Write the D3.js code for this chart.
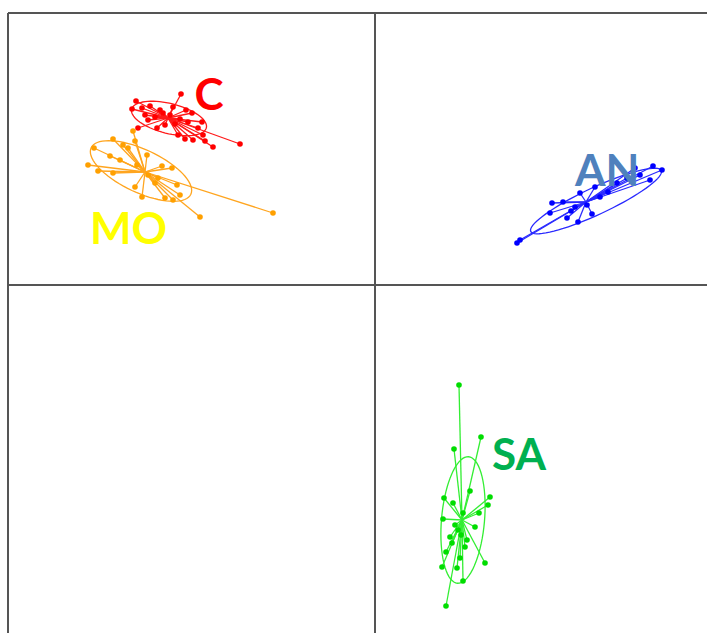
<!DOCTYPE html>
<html>
<head>
<meta charset="utf-8">
<script src="https://cdn.jsdelivr.net/npm/d3@7/dist/d3.min.js"></script>
<style>
  html, body { margin: 0; padding: 0; background: #fff; }
  svg { display: block; }
</style>
</head>
<body>
<svg id="chart" width="707" height="633"></svg>
<script>
// Group scores on the first two axes (Axis 1, Axis 2)
const groupNames = ["C", "MO", "AN", "SA"];

const pointsC = [
  [-1.94, 1.91], [-2.43, 1.76], [-2.39, 1.84], [-2.37, 1.57], [-2.25, 1.79],
  [-2.27, 1.65], [-2.18, 1.57], [-2.15, 1.75], [-2.02, 1.78], [-1.89, 1.75],
  [-1.83, 1.72], [-1.73, 1.63], [-1.77, 1.57], [-1.97, 1.50], [-1.90, 1.46],
  [-1.82, 1.45], [-1.72, 1.50], [-1.70, 1.44], [-1.62, 1.38], [-1.35, 1.41],
  [-2.10, 1.60], [-2.00, 1.61], [-2.30, 1.70], [-1.87, 1.63], [-2.20, 1.68],
  [-2.05, 1.70], [-2.12, 1.72], [-1.95, 1.66], [-2.33, 1.77]
];
const pointsMO = [
  [-2.42, 1.54], [-2.40, 1.44], [-2.81, 1.37], [-2.62, 1.46], [-2.52, 1.40],
  [-2.47, 1.37], [-2.65, 1.29], [-2.87, 1.20], [-2.77, 1.14], [-2.62, 1.12],
  [-2.28, 1.30], [-2.03, 1.17], [-2.13, 1.19], [-2.17, 1.07], [-2.40, 0.98],
  [-2.33, 0.88], [-2.10, 0.87], [-2.02, 0.85], [-1.98, 1.00], [-1.75, 0.68],
  [-1.02, 0.72], [-2.27, 1.10], [-1.95, 0.90], [-2.55, 1.25], [-2.20, 1.02],
  [-2.38, 1.20]
];
const pointsAN = [
  [1.42, 0.42], [1.45, 0.45], [1.77, 0.82], [1.88, 0.83], [1.75, 0.72],
  [1.92, 0.67], [2.03, 0.63], [2.17, 0.71], [2.05, 0.92], [2.20, 0.98],
  [2.33, 0.93], [2.42, 1.02], [2.60, 1.17], [2.78, 1.19], [2.87, 1.15],
  [2.75, 1.05], [2.52, 1.07], [2.00, 0.78], [2.12, 0.80], [2.65, 1.10],
  [1.96, 0.74], [2.25, 0.88]
];
const pointsSA = [
  [0.84, -1.00], [1.06, -1.52], [0.79, -1.64], [0.69, -2.13], [1.15, -2.12],
  [1.13, -2.20], [0.68, -2.34], [0.78, -2.18], [0.95, -2.06], [1.04, -2.28],
  [0.75, -2.52], [0.71, -2.67], [0.67, -2.82], [0.82, -2.83], [0.88, -2.96],
  [1.10, -2.78], [0.71, -3.21], [0.77, -2.58], [0.85, -2.73], [0.92, -2.55],
  [1.00, -2.42], [0.83, -2.45], [0.88, -2.28], [0.80, -2.40], [0.90, -2.62],
  [0.86, -2.50]
];

// Class centres and inertia ellipses: [cx, cy, semi-major, semi-minor, angle in degrees]
const centres   = [[-2.07, 1.67], [-2.30, 1.13], [2.11, 0.83], [0.87, -2.35]];
const ellipses  = [
  [-2.06, 1.665, 0.385, 0.15, -14],
  [-2.34, 1.14, 0.55, 0.215, -25],
  [2.21, 0.84, 0.72, 0.135, 25],
  [0.88, -2.35, 0.635, 0.215, 85]
];
const labelPos  = [[-1.66, 1.75], [-2.85, 0.41], [2.00, 0.99], [1.17, -1.85]];
const labelAnchor = ["middle", "start", "start", "start"];

const lineColors  = ["#ff1a1a", "#ffa51f", "#2a2aff", "#33ee33"];
const pointColors = ["#ff0000", "#ffa000", "#0000ff", "#00dd00"];
const labelColors = ["#ff0000", "#ffff00", "#4f81bd", "#00b050"];

const allPoints = [pointsC, pointsMO, pointsAN, pointsSA];

const W = 707, H = 633;
const svg = d3.select("#chart");

const x = d3.scaleLinear().domain([-3.67, 3.32]).range([8, W]);
const y = d3.scaleLinear().domain([2.72, -3.48]).range([13, H]);

// Frame and axes through the origin
const frame = svg.append("g")
  .attr("stroke", "#555")
  .attr("stroke-width", 2)
  .attr("fill", "none");
frame.append("line").attr("x1", x.range()[0]).attr("x2", x.range()[1])
  .attr("y1", y.range()[0]).attr("y2", y.range()[0]);
frame.append("line").attr("x1", x.range()[0]).attr("x2", x.range()[0])
  .attr("y1", y.range()[0]).attr("y2", y.range()[1]);
frame.append("line").attr("x1", x.range()[0]).attr("x2", x.range()[1])
  .attr("y1", y(0)).attr("y2", y(0));
frame.append("line").attr("x1", x(0)).attr("x2", x(0))
  .attr("y1", y.range()[0]).attr("y2", y.range()[1]);

const line = d3.line().x(d => x(d[0])).y(d => y(d[1])).curve(d3.curveLinearClosed);

function ellipsePoints(e) {
  const [cx, cy, a, b, deg] = e;
  const t = deg * Math.PI / 180;
  return d3.range(0, 72).map(i => {
    const s = i / 72 * 2 * Math.PI;
    const ex = a * Math.cos(s), ey = b * Math.sin(s);
    return [cx + ex * Math.cos(t) - ey * Math.sin(t), cy + ex * Math.sin(t) + ey * Math.cos(t)];
  });
}

groupNames.forEach((name, gi) => {
  const g = svg.append("g").attr("class", "group-" + name);
  const c = centres[gi];
  const pts = allPoints[gi];

  g.append("path")
    .attr("d", line(ellipsePoints(ellipses[gi])))
    .attr("fill", "none")
    .attr("stroke", lineColors[gi])
    .attr("stroke-width", 1.3);

  g.selectAll("line.spoke").data(pts).join("line")
    .attr("class", "spoke")
    .attr("x1", x(c[0])).attr("y1", y(c[1]))
    .attr("x2", d => x(d[0])).attr("y2", d => y(d[1]))
    .attr("stroke", lineColors[gi])
    .attr("stroke-width", 1.3);

  g.selectAll("circle").data(pts).join("circle")
    .attr("cx", d => x(d[0])).attr("cy", d => y(d[1]))
    .attr("r", 2.8)
    .attr("fill", pointColors[gi]);

  g.append("text")
    .attr("x", x(labelPos[gi][0])).attr("y", y(labelPos[gi][1]))
    .attr("text-anchor", labelAnchor[gi])
    .attr("font-family", "Lato, 'Open Sans', sans-serif")
    .attr("font-weight", "bold")
    .attr("font-size", 44)
    .attr("fill", labelColors[gi])
    .text(name);
});
</script>
</body>
</html>
